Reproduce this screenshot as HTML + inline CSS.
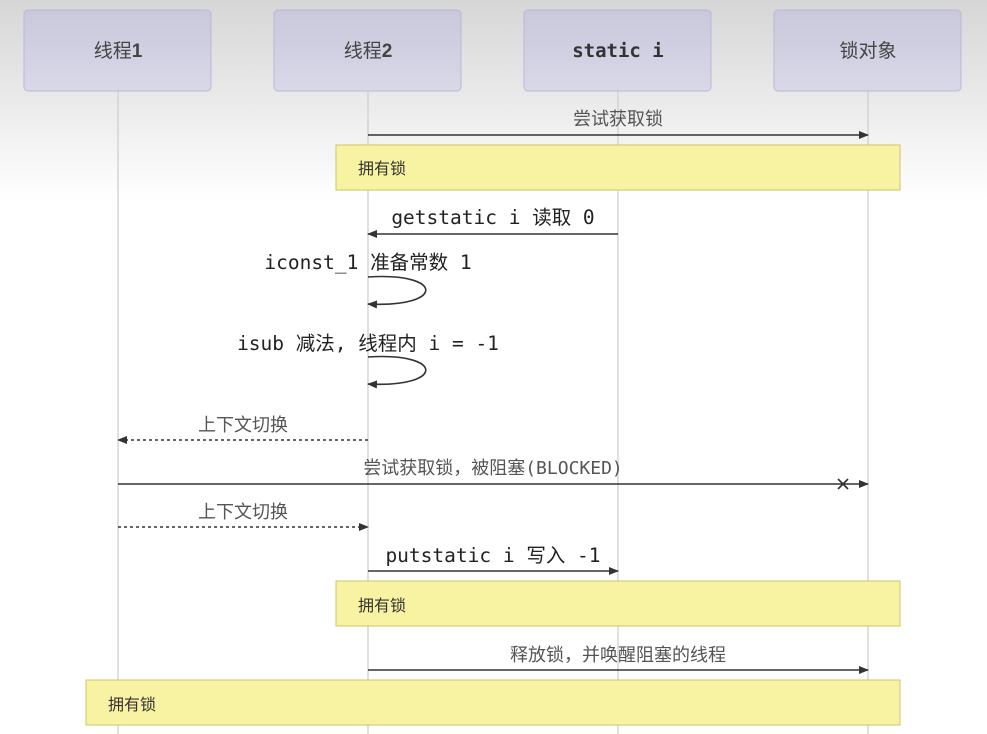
<!DOCTYPE html>
<html><head><meta charset="utf-8"><style>
html,body{margin:0;padding:0;}
body{width:987px;height:734px;overflow:hidden;background:linear-gradient(#d6d6d6 0px,#ececec 110px,#fff 200px,#fff 734px);}
svg{display:block}
.cn{font-family:"Liberation Sans","Noto Sans CJK SC",sans-serif;}
.mono{font-family:"DejaVu Sans Mono","Liberation Mono","Noto Sans CJK SC",monospace;}
</style></head><body>
<svg width="987" height="734" xmlns="http://www.w3.org/2000/svg">
<defs>
<linearGradient id="bx" x1="0" y1="0" x2="0" y2="1"><stop offset="0" stop-color="#c9c8dc"/><stop offset="1" stop-color="#d9d8e8"/></linearGradient>
<marker id="ar" markerWidth="10" markerHeight="8" refX="9" refY="4" orient="auto" markerUnits="userSpaceOnUse"><path d="M0,0 L10,4 L0,8 z" fill="#333"/></marker>
</defs>
<g stroke="#cfcfcf" stroke-width="1.3">
<line x1="118" y1="91" x2="118" y2="734"/><line x1="368" y1="91" x2="368" y2="734"/>
<line x1="618" y1="91" x2="618" y2="734"/><line x1="868" y1="91" x2="868" y2="734"/>
</g>
<g fill="url(#bx)" stroke="#b9b8d6" stroke-width="1">
<rect x="24" y="10" width="187" height="81" rx="4"/><rect x="274" y="10" width="187" height="81" rx="4"/>
<rect x="524" y="10" width="187" height="81" rx="4"/><rect x="774" y="10" width="187" height="81" rx="4"/>
</g>
<g font-size="19" fill="#444" text-anchor="middle" class="cn">
<text x="118" y="57">线程<tspan font-weight="bold">1</tspan></text>
<text x="368" y="57">线程<tspan font-weight="bold">2</tspan></text>
<text x="618" y="57" class="mono" font-weight="bold" fill="#333">static i</text>
<text x="868" y="57">锁对象</text>
</g>
<g stroke="#333" stroke-width="1.6" fill="none">
<line x1="368" y1="135" x2="868" y2="135" marker-end="url(#ar)"/>
<line x1="618" y1="234" x2="368" y2="234" marker-end="url(#ar)"/>
<path d="M368,277 C445,272 445,308 368,304" marker-end="url(#ar)"/>
<path d="M368,357 C445,352 445,388 368,384" marker-end="url(#ar)"/>
<line x1="368" y1="440" x2="118" y2="440" stroke-dasharray="3,3" marker-end="url(#ar)"/>
<line x1="118" y1="484" x2="868" y2="484" marker-end="url(#ar)"/>
<path d="M838,479 L848,489 M848,479 L838,489"/>
<line x1="118" y1="527" x2="368" y2="527" stroke-dasharray="3,3" marker-end="url(#ar)"/>
<line x1="368" y1="571" x2="618" y2="571" marker-end="url(#ar)"/>
<line x1="368" y1="670" x2="868" y2="670" marker-end="url(#ar)"/>
</g>
<g fill="#f8f3a2" stroke="#cdc46a" stroke-width="1">
<rect x="336" y="145" width="564" height="45"/>
<rect x="336" y="581" width="564" height="45"/>
<rect x="86" y="680" width="814" height="45"/>
</g>
<g font-size="16" fill="#333" class="cn">
<text x="358" y="174">拥有锁</text><text x="358" y="611">拥有锁</text><text x="108" y="710">拥有锁</text>
</g>
<g font-size="18" fill="#555" text-anchor="middle" class="cn">
<text x="618" y="125">尝试获取锁</text>
<text x="243" y="431">上下文切换</text>
<text x="493" y="474">尝试获取锁，被阻塞<tspan class="mono" font-size="18">(BLOCKED)</tspan></text>
<text x="243" y="518">上下文切换</text>
<text x="618" y="661">释放锁，并唤醒阻塞的线程</text>
</g>
<g font-size="19.5" fill="#222" text-anchor="middle" class="mono">
<text x="493" y="224">getstatic i 读取 0</text>
<text x="368" y="269">iconst_1 准备常数 1</text>
<text x="368" y="350">isub 减法, 线程内 i = -1</text>
<text x="493" y="562">putstatic i 写入 -1</text>
</g>
</svg>
</body></html>
